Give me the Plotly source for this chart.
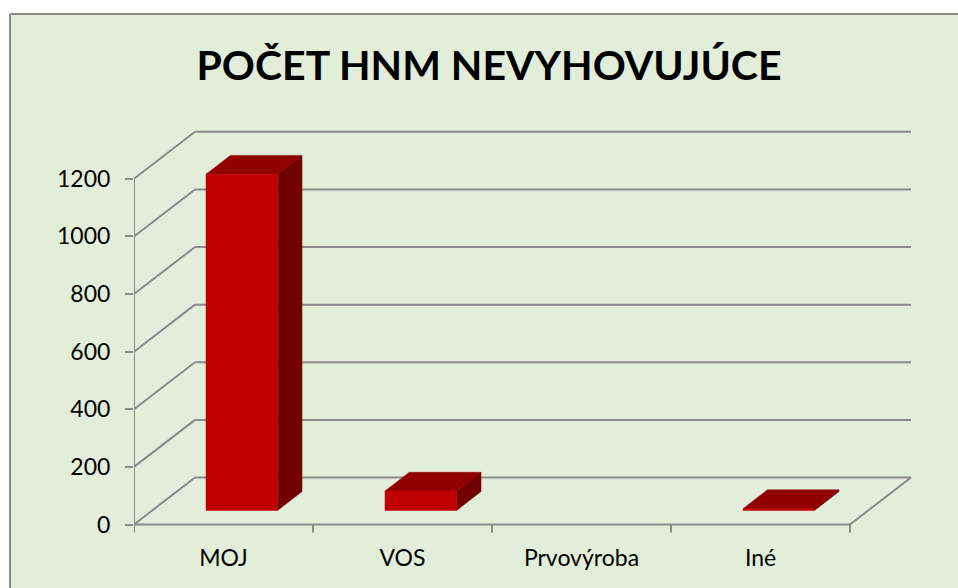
import plotly.graph_objects as go

# ---- data ----
categories = ["MOJ", "VOS", "Prvovýroba", "Iné"]
values = [1167, 67, 0, 6]
y_ticks = [0, 200, 400, 600, 800, 1000, 1200]
title_text = "POČET HNM NEVYHOVUJÚCE"

# ---- layout geometry (screen pixels) ----
W, H = 958, 588
L, T = 134, 110
plot_right = 922
plot_bottom = 540
R = W - plot_right
B = H - plot_bottom
plot_w = W - L - R
plot_h = H - T - B
px_per_unit_x = 179.0
px_per_val = 345.7 / 1200.0
x0 = -0.5
x1 = x0 + plot_w / px_per_unit_x
zero_px = 524.5
y0 = -(plot_bottom - zero_px) / px_per_val
y1 = y0 + plot_h / px_per_val

# 3D depth offsets (in data units)
DX = 61.0 / px_per_unit_x
DY = 47.0 / px_per_val
F0, F1 = 0.3, 0.7
HALF = 0.2

GRID = "#8A8A8A"
FRONT = "#C00000"
TOP = "#900000"
SIDE = "#730000"
BG = "#E2EED9"

fig = go.Figure()

def line(xs, ys, color=GRID, width=2):
    fig.add_trace(go.Scatter(x=xs, y=ys, mode="lines",
                             line=dict(color=color, width=width),
                             hoverinfo="skip", showlegend=False))

n = len(categories)
xl, xr = -0.5, n - 0.5
# back wall gridlines and left wall diagonals
for t in y_ticks:
    line([xl + DX, xr + DX], [t + DY, t + DY])
    line([xl, xl + DX], [t, t + DY])
# floor front and right edges
line([xl, xr], [0, 0])
line([xr, xr + DX], [0, DY])
# front vertical axis
line([xl, xl], [0, y_ticks[-1]])
# category tick marks
tick_len = 8 / px_per_val
for k in range(n + 1):
    line([xl + k, xl + k], [0, -tick_len])

def poly(xs, ys, color, name):
    fig.add_trace(go.Scatter(x=xs + [xs[0]], y=ys + [ys[0]], mode="lines",
                             fill="toself", fillcolor=color,
                             line=dict(color=color, width=0.5),
                             hoverinfo="text", text=name, showlegend=False))

for i, (c, v) in enumerate(zip(categories, values)):
    if v == 0:
        continue
    a, b = i - HALF, i + HALF
    label = f"{c}: {v}"
    # side face
    poly([b + F0 * DX, b + F1 * DX, b + F1 * DX, b + F0 * DX],
         [F0 * DY, F1 * DY, F1 * DY + v, F0 * DY + v], SIDE, label)
    # top face
    poly([a + F0 * DX, b + F0 * DX, b + F1 * DX, a + F1 * DX],
         [F0 * DY + v, F0 * DY + v, F1 * DY + v, F1 * DY + v], TOP, label)
    # front face
    poly([a + F0 * DX, b + F0 * DX, b + F0 * DX, a + F0 * DX],
         [F0 * DY, F0 * DY, F0 * DY + v, F0 * DY + v], FRONT, label)

def px(p):
    return (p - L) / plot_w

def py(p):
    return (plot_bottom - p) / plot_h

border = "#8C8C8C"
shapes = [
    dict(type="rect", xref="paper", yref="paper", layer="below",
         x0=px(-2), x1=px(962), y0=py(-2), y1=py(14),
         fillcolor="white", line=dict(width=0)),
    dict(type="rect", xref="paper", yref="paper", layer="below",
         x0=px(-2), x1=px(10), y0=py(-2), y1=py(592),
         fillcolor="white", line=dict(width=0)),
    dict(type="line", xref="paper", yref="paper", layer="below",
         x0=px(10), x1=px(962), y0=py(14), y1=py(14),
         line=dict(color=border, width=2)),
    dict(type="line", xref="paper", yref="paper", layer="below",
         x0=px(10), x1=px(10), y0=py(14), y1=py(592),
         line=dict(color=border, width=2)),
]

fig.update_layout(
    width=W, height=H,
    margin=dict(l=L, r=R, t=T, b=B, pad=0),
    paper_bgcolor=BG,
    plot_bgcolor="rgba(0,0,0,0)",
    font=dict(family="Lato, Calibri, sans-serif", color="black"),
    title=dict(text=title_text, x=489 / W, xanchor="center",
               y=1 - 66 / H, yanchor="middle", yref="container",
               font=dict(size=41, family="Lato, Calibri, sans-serif", color="black", weight="bold")),
    xaxis=dict(range=[x0, x1], tickmode="array", tickvals=list(range(n)),
               ticktext=categories, showgrid=False, zeroline=False,
               showline=False, ticks="", tickfont=dict(size=23),
               ticklabelstandoff=2, fixedrange=True),
    yaxis=dict(range=[y0, y1], tickmode="array", tickvals=y_ticks,
               showgrid=False, zeroline=False, showline=False,
               ticks="outside", ticklen=8, tickwidth=2, tickcolor=GRID,
               tickfont=dict(size=23), ticklabelstandoff=10, fixedrange=True),
    shapes=shapes,
)

fig.write_html("out.html", config={"displayModeBar": False},
               post_script="document.body.style.margin='0';document.body.style.overflow='hidden';")
